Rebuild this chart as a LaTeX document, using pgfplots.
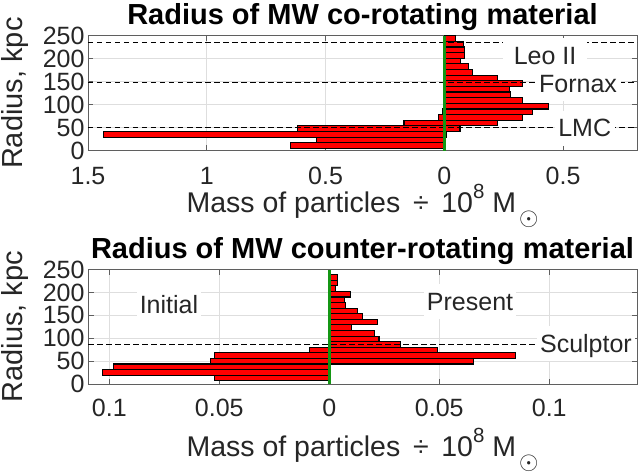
\documentclass[border=0pt]{standalone}
\usepackage{fontspec}
\setmainfont{Liberation Sans}
\usepackage{pgfplots}
\pgfplotsset{compat=1.18}

\definecolor{mwgreen}{RGB}{20,150,20}
\definecolor{gridgray}{RGB}{222,222,222}
\definecolor{axisgray}{RGB}{95,95,95}

\tikzset{
  lbl/.style={fill=white, font=\fontsize{25}{25}\selectfont, text=black!85, minimum height=35pt, text height=17.9pt, text depth=0pt, inner ysep=0pt, inner xsep=3pt},
}

\newcommand{\sunsym}{\raisebox{-12.5pt}{\fontsize{23}{23}\selectfont$\odot$}}
\newcommand{\supeight}{\raisebox{14pt}{\fontsize{20.5}{20.5}\selectfont 8}}

\pgfplotsset{
  panel/.style={
    scale only axis, width=549pt, anchor=south west,
    ymin=0, ymax=250,
    ytick={0,50,100,150,200,250},
    yticklabels={0,50,100,150,200,250},
    grid=major,
    major grid style={draw=gridgray, line width=0.8pt},
    axis line style={draw=axisgray, line width=0.8pt},
    every tick/.style={draw=axisgray, line width=0.8pt},
    tick align=inside, major tick length=5.5pt,
    tick label style={font=\fontsize{25}{25}\selectfont, text=black!85},
    ylabel={Radius, kpc},
    ylabel style={at={(axis description cs:-0.1075,0.5)}, anchor=south, inner sep=0pt, font=\fontsize{29}{29}\selectfont, text=black!85},
    title style={at={(axis description cs:0.5,1)}, anchor=base, yshift=5pt, inner sep=0pt, font=\fontsize{29}{29}\selectfont\bfseries},
    xlabel={Mass of particles\, ÷\, 10\supeight{} M\hspace{3pt}\sunsym},
    xlabel style={at={(axis description cs:0.5,0)}, anchor=base, inner sep=0pt, font=\fontsize{28.5}{28.5}\selectfont, text=black!85},
  },
  bars/.style={xbar, bar width=#1, bar shift=0pt, fill=red, draw=black, line width=1.1pt},
  mark line/.style={black, line width=1pt, dash pattern=on 5.5pt off 3.5pt},
  zero line/.style={mwgreen, line width=2.5pt},
}

\begin{document}
\begin{tikzpicture}
\useasboundingbox (0pt,0pt) rectangle (638pt,472pt);

% ---------------- top panel ----------------
\begin{axis}[panel, at={(88pt,321.3pt)}, height=115pt,
  xmin=-1.5, xmax=0.811,
  xtick={-1.5,-1,-0.5,0,0.5}, xticklabels={1.5,1,0.5,0,0.5},
  xticklabel style={anchor=base, yshift=-34.3pt},
  xlabel style={yshift=-62pt},
  title={Radius of MW co-rotating material}]
% initial (left)
\addplot[bars=12.25] coordinates {
 (-0.648,11.125) (-0.537,23.375) (-1.436,35.625) (-0.617,47.875)
 (-0.170,60.125) (-0.025,72.375) (-0.007,84.625)};
% present (right)
\addplot[bars=12.25] coordinates {
 (0.008,35.625) (0.066,47.875) (0.224,60.125) (0.328,72.375)
 (0.372,84.625) (0.437,96.875) (0.330,109.125) (0.280,121.375)
 (0.274,133.625) (0.330,145.875) (0.222,158.125) (0.117,170.375)
 (0.100,182.625) (0.068,194.875) (0.085,207.125) (0.085,219.375)
 (0.082,231.625) (0.047,243.875)};
\addplot[mark line] coordinates {(-1.5,50) (0.811,50)};
\addplot[mark line] coordinates {(-1.5,149) (0.811,149)};
\addplot[mark line] coordinates {(-1.5,235) (0.811,235)};
\addplot[zero line] coordinates {(0,0) (0,250)};
\node[lbl, inner xsep=11pt] at (axis cs:0.424,206.3) {Leo II};
\node[lbl, inner xsep=4.5pt] at (axis cs:0.563,145.5) {Fornax};
\node[lbl, inner xsep=3.5pt] at (axis cs:0.591,49.3) {LMC};
\end{axis}

% ---------------- bottom panel ----------------
\begin{axis}[panel, at={(88pt,88pt)}, height=114.5pt,
  xmin=-0.1097, xmax=0.1399,
  xtick={-0.1,-0.05,0,0.05,0.1}, xticklabels={0.1,0.05,0,0.05,0.1},
  xticklabel style={anchor=base, yshift=-32.7pt},
  xlabel style={yshift=-72.5pt},
  title={Radius of MW counter-rotating material}]
\addplot[bars=12.2] coordinates {
 (-0.0523,13.1) (-0.1033,25.3) (-0.0982,37.5) (-0.0542,49.7)
 (-0.0523,61.9) (-0.0088,74.1)};
\addplot[bars=12.2] coordinates {
 (0.0655,49.7) (0.0847,61.9) (0.0492,74.1) (0.0324,86.3)
 (0.0226,98.5) (0.0206,110.7) (0.0102,122.9) (0.0218,135.1)
 (0.0150,147.3) (0.0129,159.5) (0.0074,171.7) (0.0068,183.9)
 (0.0095,196.1) (0.0030,208.3) (0.0036,220.5) (0.0038,232.7)};
\addplot[mark line] coordinates {(-0.1097,87) (0.1399,87)};
\addplot[zero line] coordinates {(0,0) (0,250)};
\node[lbl] at (axis cs:-0.0729,173.2) {Initial};
\node[lbl] at (axis cs:0.0640,179.8) {Present};
\node[lbl] at (axis cs:0.1167,87.7) {Sculptor};
\end{axis}
\end{tikzpicture}
\end{document}
